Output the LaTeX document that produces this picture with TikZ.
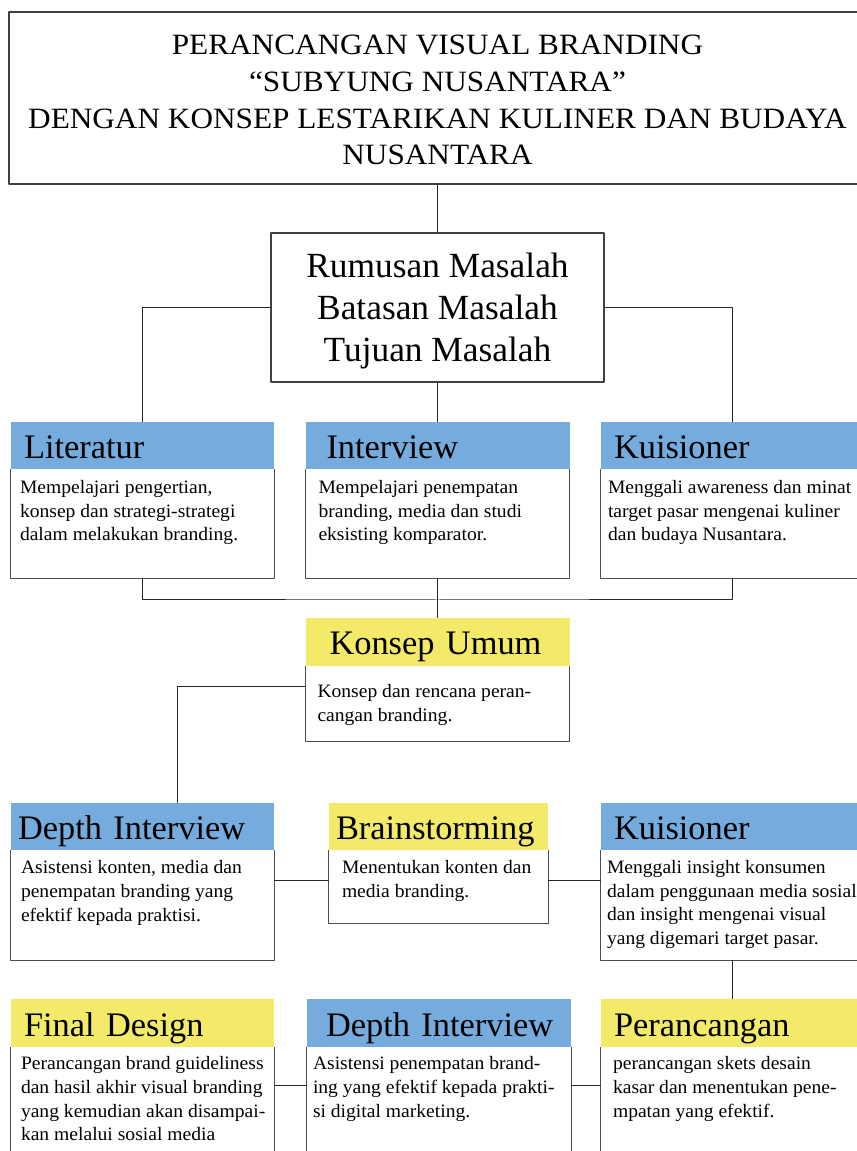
\documentclass[tikz,border=0pt]{standalone}
\usepackage{fontspec}
\setmainfont{Liberation Serif}
\newfontfamily\titlefont[FakeStretch=1.06]{Liberation Serif}
\newfontfamily\bodyfont[FakeStretch=1.035]{Liberation Serif}
\definecolor{hdrblue}{HTML}{76ACDD}
\definecolor{hdryellow}{HTML}{F3EA6A}
\newcommand{\bodytext}[4]{\parbox[c][#1][t]{#2}{\rule{0pt}{#3}\begin{tabular}[t]{@{}l@{}}#4\end{tabular}}}
\newcommand{\boxtext}[4]{\parbox[c][#1][t]{#2}{\centering\rule{0pt}{#3}#4}}

\begin{document}
\begin{tikzpicture}[line join=bevel,
  box/.style={draw=black!75,line width=1.2bp,inner sep=0pt},
  hdr/.style={inner ysep=0pt,minimum height=47bp,text height=27bp,text depth=0bp,align=left,font=\fontsize{34.5}{40}\selectfont},
  bodybox/.style={inner ysep=0pt,font=\bodyfont\fontsize{19}{23.7}\selectfont},
  frame/.style={draw=black!70,line width=1.2bp},
  link/.style={black!85,line width=1bp}]
\useasboundingbox (0,0) rectangle (857bp,1151bp);
\clip (0,0) rectangle (857bp,1151bp);
%%
\node (node_title) at (437.5bp,1053bp) [box,minimum width=857bp,minimum height=172bp,font=\titlefont\fontsize{29.6}{36.7}\selectfont] {\boxtext{172bp}{857bp}{43bp}{PERANCANGAN VISUAL BRANDING\\ “SUBYUNG NUSANTARA”\\ DENGAN KONSEP LESTARIKAN KULINER DAN BUDAYA\\ NUSANTARA}};
  \node (node_rumusan) at (437.5bp,843.5bp) [box,minimum width=333bp,minimum height=149bp,font=\fontsize{35.5}{42}\selectfont] {\boxtext{149bp}{333bp}{44.5bp}{Rumusan Masalah\\ Batasan Masalah\\ Tujuan Masalah}};
%
\node (node_literatur) at (142.5bp,705.5bp) [hdr,fill=hdrblue,text width=237bp,inner xsep=13bp] {Literatur};
  \node (node_literatur_body) at (142.5bp,627.5bp) [bodybox,inner xsep=9bp] {\bodytext{109bp}{245bp}{24.5bp}{Mempelajari pengertian,\\ konsep dan strategi-strategi\\ dalam melakukan branding.}};
  \node (node_interview) at (437.5bp,705.5bp) [hdr,fill=hdrblue,text width=222bp,inner xsep=21bp] {Interview};
  \node (node_interview_body) at (437.5bp,627.5bp) [bodybox,inner xsep=13bp] {\bodytext{109bp}{238bp}{24.5bp}{Mempelajari penempatan\\ branding, media dan studi\\ eksisting komparator.}};
  \node (node_kuisioner) at (732.5bp,705.5bp) [hdr,fill=hdrblue,text width=237bp,inner xsep=13bp] {Kuisioner};
  \node (node_kuisioner_body) at (732.5bp,627.5bp) [bodybox,inner xsep=7bp] {\bodytext{109bp}{249bp}{24.5bp}{Menggali awareness dan minat\\ target pasar mengenai kuliner\\ dan budaya Nusantara.}};
%
\node (node_konsep) at (437.5bp,509bp) [hdr,fill=hdryellow,minimum height=48bp,text height=25bp,text width=216bp,inner xsep=24bp] {Konsep Umum};
  \node (node_konsep_body) at (437.5bp,447.5bp) [bodybox,inner xsep=12bp] {\bodytext{75bp}{240bp}{31.5bp}{Konsep dan rencana peran-\\ cangan branding.}};
%
\node (node_depth) at (142.5bp,324.5bp) [hdr,fill=hdrblue,text width=249bp,inner xsep=7bp] {Depth Interview};
  \node (node_depth_body) at (142.5bp,246bp) [bodybox,inner xsep=10bp] {\bodytext{110bp}{243bp}{24bp}{Asistensi konten, media dan\\ penempatan branding yang\\ efektif kepada praktisi.}};
  \node (node_brainstorming) at (438.5bp,324.5bp) [hdr,fill=hdryellow,text width=205bp,inner xsep=7bp] {\mbox{Brainstorming}};
  \node (node_brainstorming_body) at (438.5bp,264.5bp) [bodybox,inner xsep=13bp] {\bodytext{73bp}{193bp}{24bp}{Menentukan konten dan\\ media branding.}};
  \node (node_kuisioner2) at (732.5bp,324.5bp) [hdr,fill=hdrblue,text width=237bp,inner xsep=13bp] {Kuisioner};
  \node (node_kuisioner2_body) at (732.5bp,246bp) [bodybox,inner xsep=6bp] {\bodytext{110bp}{251bp}{23.5bp}{Menggali insight konsumen\\ dalam penggunaan media sosial\\ dan insight mengenai visual\\ yang digemari target pasar.}};
%
\node (node_final) at (142.5bp,128bp) [hdr,fill=hdryellow,minimum height=48bp,text width=237bp,inner xsep=13bp] {Final Design};
  \node (node_final_body) at (142.5bp,47.5bp) [bodybox,inner xsep=10bp] {\bodytext{113bp}{243bp}{23bp}{Perancangan brand guideliness\\ dan hasil akhir visual branding\\ yang kemudian akan disampai-\\ kan melalui sosial media}};
  \node (node_interview2) at (439bp,128bp) [hdr,fill=hdrblue,minimum height=48bp,text width=226bp,inner xsep=19bp] {\mbox{Depth Interview}};
  \node (node_interview2_body) at (439bp,47.5bp) [bodybox,inner xsep=6bp] {\bodytext{113bp}{252bp}{23bp}{Asistensi penempatan brand-\\ ing yang efektif kepada prakti-\\ si digital marketing.}};
  \node (node_perancangan) at (732.5bp,128bp) [hdr,fill=hdryellow,minimum height=48bp,text width=237bp,inner xsep=13bp] {Perancangan};
  \node (node_perancangan_body) at (732.5bp,47.5bp) [bodybox,inner xsep=12bp] {\bodytext{113bp}{239bp}{23bp}{perancangan skets desain\\ kasar dan menentukan pene-\\ mpatan yang efektif.}};
%
\foreach \n in {literatur,interview,kuisioner,konsep,depth,brainstorming,kuisioner2,final,interview2,perancangan}
  \draw [frame] (node_\n_body.north west) |- (node_\n_body.south east) -- (node_\n_body.north east);
%
\draw [link] (node_title) -- (node_rumusan);
  \draw [link] (node_rumusan.west) -| (node_literatur);
  \draw [link] (node_rumusan.east) -| (node_kuisioner);
  \draw [link] (node_rumusan) -- (node_interview);
  \coordinate (join_1) at (437.5bp,551bp);
  \draw [link] (node_literatur_body.south) |- (join_1) -| (node_kuisioner_body.south);
  \draw [link] (node_interview_body) -- (node_konsep);
  \draw [link] ([yshift=16.5bp]node_konsep_body.west) -| ([xshift=34.5bp]node_depth.north);
  \coordinate (join_2) at ([yshift=5.5bp]node_brainstorming_body.west);
  \coordinate (join_3) at ([yshift=5.5bp]node_brainstorming_body.east);
  \draw [link] (join_2 -| node_depth_body.east) -- (join_2);
  \draw [link] (join_3) -- (join_3 -| node_kuisioner2_body.west);
  \draw [link] (node_kuisioner2_body) -- (node_perancangan);
  \coordinate (join_4) at ([yshift=17.5bp]node_interview2_body.west);
  \coordinate (join_5) at ([yshift=17.5bp]node_interview2_body.east);
  \draw [link] (join_4 -| node_final_body.east) -- (join_4);
  \draw [link] (join_5) -- (join_5 -| node_perancangan_body.west);
%
\end{tikzpicture}
\end{document}
